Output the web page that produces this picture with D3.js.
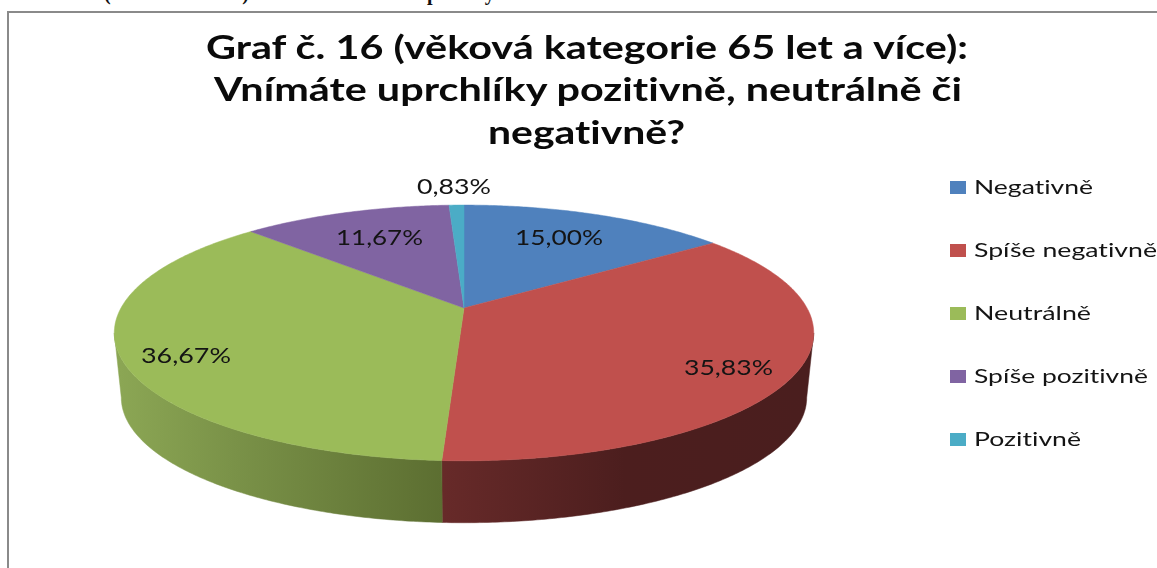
<!DOCTYPE html>
<html><head><meta charset="utf-8">
<script src="https://cdn.jsdelivr.net/npm/d3@7"></script>
<style>html,body{margin:0;padding:0;background:#fff;overflow:hidden}svg{display:block}
.soft{filter:blur(0.5px)}
text{font-variant-ligatures:none}</style></head><body>
<svg id="c" width="1157" height="568"></svg>
<script>
const categories = ["Negativně","Spíše negativně","Neutrálně","Spíše pozitivně","Pozitivně"];
const values = [15.00,35.83,36.67,11.67,0.83];
const valueLabels = ["15,00%","35,83%","36,67%","11,67%","0,83%"];
const colors = ["#4f81bd","#c0504d","#9bbb59","#8064a2","#4bacc6"];
const titleLines = ["Graf č. 16 (věková kategorie 65 let a více):","Vnímáte uprchlíky pozitivně, neutrálně či","negativně?"];

const svg = d3.select("#c");
const defs = svg.append("defs");
const W=1157;

// page frame and clipped line of document text above it
const page = svg.append("g");
page.append("text").attr("x",104).attr("y",-0.5).attr("textLength",145).attr("lengthAdjust","spacing")
  .attr("font-family","Liberation Serif").attr("font-weight","bold").attr("font-size",20).attr("fill","#111").text("(65 let a více)");
page.append("text").attr("x",427).attr("y",-0.5)
  .attr("font-family","Liberation Serif").attr("font-weight","bold").attr("font-size",20).attr("fill","#111").text("pohledy");
page.append("path").attr("d",`M8,568V12H${W}`).attr("fill","none").attr("stroke","#8a8a8a").attr("stroke-width",2);

// perspective projection of the pie disc
const cx=464, topCy=308, botCy=373, rx=343, ry=123, k=0.195, botScale=0.98;
function proj(theta, cy, s){
  const u=Math.sin(theta), v=Math.cos(theta), w=1+k*v;
  return [cx+s*rx*u/w, cy-s*ry*v/w];
}
const pie = d3.pie().sort(null)(values);
const line = d3.line();
function arcPts(a0,a1,cy,s){
  const n=Math.max(2,Math.ceil((a1-a0)/0.01));
  return d3.range(n+1).map(i=>proj(a0+(a1-a0)*i/n,cy,s));
}
// silhouette angles: only the front of the rim is visible
const tMin=Math.acos(-k), tMax=2*Math.PI-tMin;

// rim shading
const rimStops=[
  {id:"rim1",x0:443,x1:806,stops:[[0,"#672a29"],[0.5,"#4c1e1e"],[1,"#4a1e1e"]]},
  {id:"rim2",x0:120,x1:443,stops:[[0,"#8ba654"],[0.35,"#7a9248"],[1,"#5c6e31"]]}
];
rimStops.forEach(r=>{
  const g=defs.append("linearGradient").attr("id",r.id).attr("gradientUnits","userSpaceOnUse")
    .attr("x1",r.x0).attr("x2",r.x1).attr("y1",0).attr("y2",0);
  r.stops.forEach(s=>g.append("stop").attr("offset",s[0]).attr("stop-color",s[1]));
});

const disc=svg.append("g").attr("class","soft");
pie.forEach((d,i)=>{
  const a0=Math.max(d.startAngle,tMin), a1=Math.min(d.endAngle,tMax);
  if(a1<=a0) return;
  const rim=rimStops.find(r=>r.id==="rim"+i);
  const pts=arcPts(a0,a1,topCy,1).concat(arcPts(a0,a1,botCy,botScale).reverse());
  disc.append("path").attr("d",line(pts)+"Z").attr("fill",rim?`url(#${rim.id})`:colors[i])
    .attr("stroke",rim?`url(#${rim.id})`:colors[i]).attr("stroke-width",0.5);
});
pie.forEach((d,i)=>{
  const pts=[[cx,topCy]].concat(arcPts(d.startAngle,d.endAngle,topCy,1));
  disc.append("path").attr("d",line(pts)+"Z").attr("fill",colors[i]).attr("stroke",colors[i]).attr("stroke-width",0.5);
});

const FONT="Lato, 'Open Sans', sans-serif";
const txt=svg.append("g").attr("class","soft").attr("font-family",FONT).attr("fill","#141414");

// title
const titleBox=[[206,968,59],[214,962,101],[488,685,144]];
titleLines.forEach((t,i)=>{
  txt.append("text").attr("x",titleBox[i][0]).attr("y",titleBox[i][2])
    .attr("textLength",titleBox[i][1]-titleBox[i][0]).attr("lengthAdjust","spacingAndGlyphs")
    .attr("font-size",33).attr("font-weight",700).attr("fill","#0a0a0a").text(t);
});

// data labels
const labelBox=[[515,603,245],[684,773,375],[141,231,363],[336,423,245],[417,491,194]];
valueLabels.forEach((t,i)=>{
  txt.append("text").attr("x",labelBox[i][0]).attr("y",labelBox[i][2])
    .attr("textLength",labelBox[i][1]-labelBox[i][0]).attr("lengthAdjust","spacingAndGlyphs")
    .attr("font-size",21).text(t);
});

// legend
const legendY=d3.scalePoint().domain(categories).range([187.5,439.5]);
const legendRight=[1093,1157,1091,1148,1081];
categories.forEach((c,i)=>{
  const y=legendY(c);
  txt.append("rect").attr("x",950).attr("y",y-6.5).attr("width",16).attr("height",13).attr("fill",colors[i]);
  txt.append("text").attr("x",974).attr("y",y+6)
    .attr("textLength",legendRight[i]-974).attr("lengthAdjust","spacingAndGlyphs")
    .attr("font-size",20).text(c);
});
</script></body></html>
